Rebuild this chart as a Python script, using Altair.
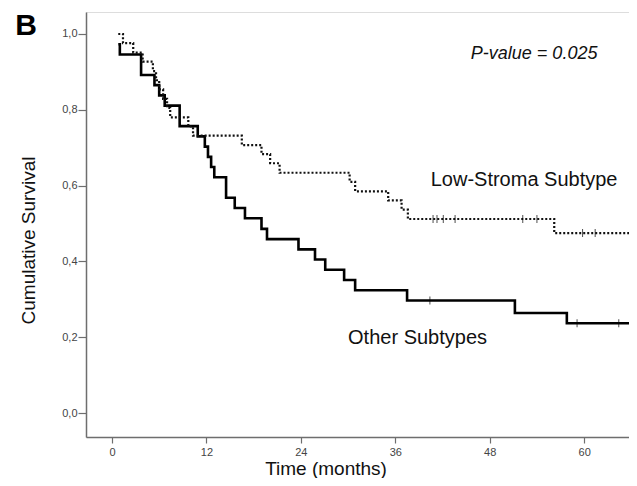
import altair as alt
import pandas as pd

# Other Subtypes (solid) step curve
solid_t = [0.8, 1.0, 3.7, 5.4, 6.0, 6.7, 8.6, 10.9, 11.8, 12.2, 12.6, 13.0, 14.5, 15.6, 16.9,
           19.0, 19.7, 23.7, 25.8, 27.1, 29.5, 30.9, 37.5, 51.2, 57.8, 65.7]
solid_s = [0.973, 0.946, 0.892, 0.865, 0.838, 0.811, 0.757, 0.730, 0.703, 0.676, 0.649, 0.622,
           0.568, 0.541, 0.514, 0.486, 0.459, 0.432, 0.405, 0.378, 0.351, 0.324, 0.297, 0.264,
           0.237, 0.237]
solid_cens_t = [40.4, 59.1, 64.4]
solid_cens_s = [0.297, 0.237, 0.237]

# Low-Stroma Subtype (dotted) step curve
dotted_t = [0.8, 1.4, 2.7, 3.9, 5.2, 5.6, 6.0, 6.5, 7.0, 7.4, 9.7, 10.3, 16.5, 19.0, 20.1,
            21.3, 30.2, 30.9, 35.1, 36.8, 37.6, 56.2, 65.7]
dotted_s = [1.0, 0.976, 0.951, 0.927, 0.902, 0.878, 0.854, 0.829, 0.805, 0.780, 0.756, 0.732,
            0.707, 0.683, 0.659, 0.634, 0.610, 0.585, 0.561, 0.537, 0.512, 0.475, 0.475]
dotted_cens_t = [40.8, 41.3, 42.1, 43.6, 52.2, 54.0, 59.8, 61.4]
dotted_cens_s = [0.512, 0.512, 0.512, 0.512, 0.512, 0.512, 0.475, 0.475]

x_ticks = [0, 12, 24, 36, 48, 60]
y_ticks = [0.0, 0.2, 0.4, 0.6, 0.8, 1.0]

label_text = ["Low-Stroma Subtype", "Other Subtypes"]
label_t = [40.5, 30.0]
label_s = [0.599, 0.183]

solid_df = pd.DataFrame({"t": solid_t, "s": solid_s})
dotted_df = pd.DataFrame({"t": dotted_t, "s": dotted_s})
solid_c = pd.DataFrame({"t": solid_cens_t, "s": solid_cens_s})
dotted_c = pd.DataFrame({"t": dotted_cens_t, "s": dotted_cens_s})
labels_df = pd.DataFrame({"t": label_t, "s": label_s, "label": label_text})
pval_df = pd.DataFrame({"t": [45.6], "s": [0.934], "label": ["P-value = 0.025"]})
panel_df = pd.DataFrame({"t": [-12.3], "s": [0.997], "label": ["B"]})

FONT = "Liberation Sans"

xscale = alt.Scale(domain=[-3.30, 65.70], nice=False, zero=False)
yscale = alt.Scale(domain=[-0.063, 1.058], nice=False, zero=False)

xax = alt.Axis(values=x_ticks, title="Time (months)", grid=False, labelFontSize=11,
               labelColor="#444444", labelFont=FONT, titleFont=FONT, titleFontSize=19,
               titleFontWeight="normal", titleColor="#111111", tickSize=6,
               tickColor="#6e6e6e", domainColor="#6e6e6e", domainWidth=1.5, tickWidth=1.2,
               labelPadding=3, titleX=239.5, titleY=37, titleBaseline="alphabetic",
               titleAnchor="middle")
yax = alt.Axis(values=y_ticks, title="Cumulative Survival", grid=False, labelFontSize=11,
               labelColor="#444444", labelFont=FONT, titleFont=FONT, titleFontSize=19,
               titleFontWeight="normal", titleColor="#111111", tickSize=8,
               tickColor="#6e6e6e", domainColor="#6e6e6e", domainWidth=1.5, tickWidth=1.2,
               labelPadding=1,
               labelExpr="replace(format(datum.value, '.1f'), '.', ',')",
               titleX=-52, titleY=228, titleBaseline="alphabetic", titleAngle=-90)

x = alt.X("t:Q", scale=xscale, axis=xax)
y = alt.Y("s:Q", scale=yscale, axis=yax)

solid = alt.Chart(solid_df).mark_line(interpolate="step-after", color="#000000",
                                      strokeWidth=2.6).encode(x=x, y=y)
dotted = alt.Chart(dotted_df).mark_line(interpolate="step-after", color="#111111",
                                        strokeWidth=2.2, strokeDash=[2, 2]).encode(x=x, y=y)
solid_ticks = alt.Chart(solid_c).mark_tick(orient="vertical", size=8, thickness=1,
                                           color="#000000").encode(x=x, y=y)
dotted_ticks = alt.Chart(dotted_c).mark_tick(orient="vertical", size=8, thickness=1,
                                             color="#000000").encode(x=x, y=y)
labels = alt.Chart(labels_df).mark_text(align="left", baseline="alphabetic", fontSize=20,
                                        font=FONT, color="#111111").encode(x=x, y=y, text="label:N")
pval = alt.Chart(pval_df).mark_text(align="left", baseline="alphabetic", fontSize=18,
                                    font=FONT, fontStyle="italic", color="#111111").encode(
    x=x, y=y, text="label:N")
panel = alt.Chart(panel_df).mark_text(align="left", baseline="alphabetic", fontSize=30,
                                      font=FONT, fontWeight="bold", color="#000000").encode(
    x=x, y=y, text="label:N")

chart = alt.layer(solid, dotted, solid_ticks, dotted_ticks, labels, pval, panel).properties(
    width=543, height=425,
    padding={"left": 78, "top": 4, "right": 0, "bottom": 41},
    autosize=alt.AutoSizeParams(type="none"),
).configure_view(stroke="#9a9a9a", strokeWidth=1.5).configure(background="white")

chart.save("out.html", embed_options={"renderer": "svg", "actions": False})
